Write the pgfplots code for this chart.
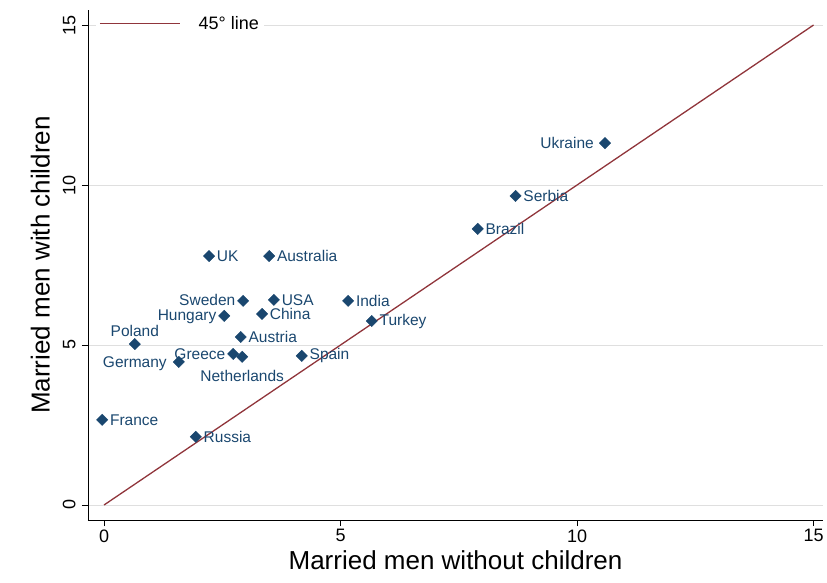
\documentclass[border=0pt]{standalone}
\usepackage{pgfplots}
\pgfplotsset{compat=1.18}
\usepackage{fontspec}
\setmainfont{Liberation Sans}
\definecolor{navy}{RGB}{26,71,111}
\definecolor{maroon}{RGB}{144,53,59}
\begin{document}
\begin{tikzpicture}
\begin{axis}[name=ax, scale only axis, width=735pt, height=510pt,
 xmin=-0.34, xmax=15.2, ymin=-0.47, ymax=15.47,
 axis lines*=left, axis line style={black,thin},
 xtick={0,5,10,15}, ytick={0,5,10,15},
 tick align=outside, tick style={black}, major tick length=6pt,
 ymajorgrids, grid style={gray!25},
 yticklabel style={rotate=90,anchor=south,yshift=3pt},
 ticklabel style={font=\fontsize{18}{18}\selectfont},
 /pgf/number format/assume math mode=true,
 xlabel={Married men without children}, ylabel={Married men with children},
 label style={font=\fontsize{26}{26}\selectfont},
 xlabel style={yshift=-2pt}, ylabel style={yshift=6pt},
 legend style={at={(0.0,1.0)},anchor=north west,draw=none,fill=white,font=\fontsize{18}{18}\selectfont,xshift=8pt,yshift=-2pt},
 legend cell align=left,
 clip=false]
\addplot[maroon, line width=1.3pt, forget plot] coordinates {(0,0) (15,15)};
\addlegendimage{legend image code/.code={\draw[color=maroon,line width=1.4pt] (0pt,0pt) -- (80pt,0pt);}}
\addlegendentry{\hspace{16pt}45° line}
\addplot[only marks, mark=square*, mark options={rotate=45}, mark size=4pt, navy, forget plot] coordinates {
(10.59,11.31)(8.70,9.66)(7.90,8.63)(2.22,7.78)(3.49,7.78)(2.94,6.38)(3.59,6.41)(5.16,6.38)
(3.34,5.97)(2.54,5.91)(5.66,5.75)(2.89,5.25)(0.65,5.03)(2.73,4.72)(2.92,4.63)(4.18,4.66)
(1.58,4.47)(-0.04,2.66)(1.94,2.13)};
\begin{scope}[every node/.style={text=navy,font=\fontsize{15.5}{15.5}\selectfont,inner sep=2pt}]
\node[anchor=east] at (axis cs:10.40,11.31) {Ukraine};
\node[anchor=west] at (axis cs:8.82,9.66) {Serbia};
\node[anchor=west] at (axis cs:8.02,8.63) {Brazil};
\node[anchor=west] at (axis cs:2.34,7.78) {UK};
\node[anchor=west] at (axis cs:3.61,7.78) {Australia};
\node[anchor=east] at (axis cs:2.82,6.40) {Sweden};
\node[anchor=west] at (axis cs:3.71,6.41) {USA};
\node[anchor=west] at (axis cs:5.28,6.38) {India};
\node[anchor=west] at (axis cs:3.46,5.97) {China};
\node[anchor=east] at (axis cs:2.42,5.87) {Hungary};
\node[anchor=west] at (axis cs:5.78,5.75) {Turkey};
\node[anchor=west] at (axis cs:3.01,5.25) {Austria};
\node at (axis cs:0.65,5.45) {Poland};
\node at (axis cs:0.65,4.40) {Germany};
\node[anchor=east] at (axis cs:2.61,4.72) {Greece};
\node at (axis cs:2.92,4.03) {Netherlands};
\node[anchor=west] at (axis cs:4.30,4.66) {Spain};
\node[anchor=west] at (axis cs:0.08,2.66) {France};
\node[anchor=west] at (axis cs:2.06,2.13) {Russia};
\end{scope}
\end{axis}
\pgfresetboundingbox
\useasboundingbox ([shift={(-88pt,-62pt)}]ax.south west) rectangle ([shift={(4pt,10pt)}]ax.north east);
\end{tikzpicture}
\end{document}
